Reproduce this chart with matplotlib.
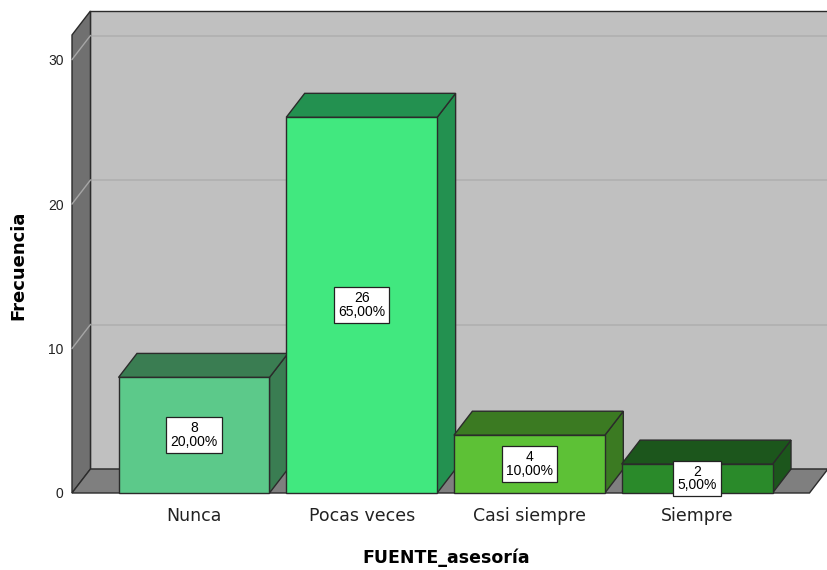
import matplotlib.pyplot as plt
from matplotlib.patches import Polygon

categorias = ['Nunca', 'Pocas veces', 'Casi siempre', 'Siempre']
frecuencias = [8, 26, 4, 2]
porcentajes = ['20,00%', '65,00%', '10,00%', '5,00%']
yticks = [0, 10, 20, 30]

# front / top-side shades of each bar
col_frente = ['#5cc98a', '#41e87f', '#5dc136', '#2a8a2a']
col_lado = ['#3a7d52', '#239150', '#3b7a22', '#1c561c']

W = 827 / 100
H = 570 / 100
fig = plt.figure(figsize=(W, H), dpi=100)
ax = fig.add_axes([72 / 827, 77 / 570, 755 / 827, 493 / 570])
x0, x1 = -0.7275, 3.7746
ax.set_xlim(x0, x1)
ax.set_ylim(0, 34.12)
for s in ax.spines.values():
    s.set_visible(False)

# depth offset of the fake 3d box (data units)
DX = 0.110
DY = 1.66
ytop = 31.7
xfloor = 3.67  # right end of floor front edge
edge = '#2b2b2b'

def poly(pts, fc, ec=edge, lw=1.0, z=1):
    ax.add_patch(Polygon(pts, closed=True, fc=fc, ec=ec, lw=lw, zorder=z, clip_on=False))

# back wall, left wall, floor
poly([(x0 + DX, DY), (x1 + 0.2, DY), (x1 + 0.2, ytop + DY), (x0 + DX, ytop + DY)], '#c0c0c0', z=1)
poly([(x0, 0), (x0 + DX, DY), (x0 + DX, ytop + DY), (x0, ytop)], '#707070', z=2)
for v in yticks[1:]:
    ax.plot([x0 + DX, x1 + 0.2], [v + DY, v + DY], color='#b0b0b0', lw=1.2, zorder=1.5, clip_on=False)
    ax.plot([x0, x0 + DX], [v, v + DY], color='#a6a6a6', lw=1.0, zorder=2.5, clip_on=False)
poly([(x0, 0), (xfloor, 0), (xfloor + DX, DY), (x0 + DX, DY)], '#7f7f7f', z=3)

# bars
bw = 0.45
for i, (v, cf, cl) in enumerate(zip(frecuencias, col_frente, col_lado)):
    l, r = i - bw, i + bw
    z = 4 + i
    poly([(r, 0), (r + DX, DY), (r + DX, v + DY), (r, v)], cl, z=z)
    poly([(l, v), (r, v), (r + DX, v + DY), (l + DX, v + DY)], cl, z=z)
    poly([(l, 0), (r, 0), (r, v), (l, v)], cf, z=z + 0.5)
    ax.text(i, v / 2, f'{v}\n{porcentajes[i]}', ha='center', va='center', fontsize=10,
            family='Liberation Sans', linespacing=0.95, zorder=20,
            bbox=dict(boxstyle='square,pad=0.3', fc='white', ec='#222222', lw=0.9))

ax.set_yticks(yticks)
ax.set_yticklabels([str(t) for t in yticks], fontsize=10, family='Liberation Sans', color='#222222')
ax.tick_params(axis='y', length=0, pad=6)
ax.set_xticks(range(len(categorias)))
ax.set_xticklabels(categorias, fontsize=12.5, color='#222222')
ax.tick_params(axis='x', length=0, pad=10)

fig.text(18 / 827, 1 - 265 / 570, 'Frecuencia', rotation=90, ha='center', va='center',
         fontsize=13, fontweight='bold')
fig.text(446 / 827, 1 - 558 / 570, 'FUENTE_asesoría', ha='center', va='center',
         fontsize=12.5, fontweight='bold')

fig.savefig('out.png', dpi=100)
